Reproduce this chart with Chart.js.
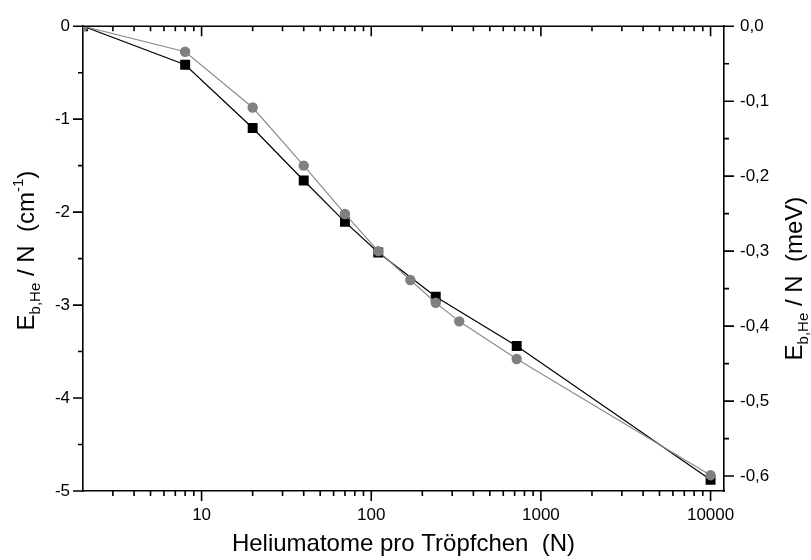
<!DOCTYPE html>
<html>
<head>
<meta charset="utf-8">
<script src="https://cdn.jsdelivr.net/npm/chart.js@4/dist/chart.umd.min.js"></script>
<style>
  html, body { margin: 0; padding: 0; background: #fff; }
  #wrap { width: 811px; height: 560px; position: relative; }
</style>
</head>
<body>
<div id="wrap"><canvas id="c" width="811" height="560"></canvas></div>
<script>
// ---- data ----
const nSquares = [2, 8, 20, 40, 70, 110, 240, 720, 10000];
const eSquares = [0, -0.415, -1.095, -1.66, -2.105, -2.435, -2.91, -3.44, -4.88];

const nCircles = [2, 8, 20, 40, 70, 110, 170, 240, 330, 720, 10000];
const eCircles = [0, -0.275, -0.875, -1.50, -2.02, -2.42, -2.73, -2.975, -3.175, -3.58, -4.83];

// ---- axes ----
const xMin = 2, xMax = 12000;
const xMajorTicks = [10, 100, 1000, 10000];
const yLeftMin = -5, yLeftMax = 0;
const yLeftMajor = [0, -1, -2, -3, -4, -5];
const yLeftMinor = [-0.5, -1.5, -2.5, -3.5, -4.5];
const cmToMeV = 0.123984;
const yRightMajor = [0, -0.1, -0.2, -0.3, -0.4, -0.5, -0.6];
const yRightMinor = [-0.05, -0.15, -0.25, -0.35, -0.45, -0.55];

const xTitle = 'Heliumatome pro Tröpfchen  (N)';
const FONT = '"Liberation Sans", Arial, sans-serif';

function xMinorTicks() {
  const out = [];
  for (let d = 1; d <= 10000; d *= 10) {
    for (let k = 2; k <= 9; k++) {
      const v = k * d;
      if (v > xMin && v < xMax && !xMajorTicks.includes(v)) out.push(v);
    }
  }
  return out;
}

const tickPlugin = {
  id: 'customTicks',
  afterDraw(chart) {
    const ctx = chart.ctx;
    const a = chart.chartArea;
    const x = chart.scales.x, y = chart.scales.y, y2 = chart.scales.y2;
    ctx.save();
    ctx.strokeStyle = '#000';
    ctx.lineWidth = 1.6;
    ctx.beginPath();
    ctx.moveTo(a.left, a.top); ctx.lineTo(a.right, a.top);
    ctx.stroke();
    const major = 10, minor = 5;
    ctx.beginPath();
    yLeftMajor.forEach(v => { const p = y.getPixelForValue(v); ctx.moveTo(a.left, p); ctx.lineTo(a.left - major, p); });
    yLeftMinor.forEach(v => { const p = y.getPixelForValue(v); ctx.moveTo(a.left, p); ctx.lineTo(a.left - minor, p); });
    yRightMajor.forEach(v => { const p = y2.getPixelForValue(v); ctx.moveTo(a.right, p); ctx.lineTo(a.right + major, p); });
    yRightMinor.forEach(v => { const p = y2.getPixelForValue(v); ctx.moveTo(a.right, p); ctx.lineTo(a.right + minor, p); });
    xMajorTicks.forEach(v => {
      const p = x.getPixelForValue(v);
      ctx.moveTo(p, a.bottom); ctx.lineTo(p, a.bottom + major);
      ctx.moveTo(p, a.top); ctx.lineTo(p, a.top + major);
    });
    xMinorTicks().forEach(v => {
      const p = x.getPixelForValue(v);
      ctx.moveTo(p, a.bottom); ctx.lineTo(p, a.bottom + minor);
      ctx.moveTo(p, a.top); ctx.lineTo(p, a.top + minor);
    });
    ctx.stroke();

    const mid = (a.top + a.bottom) / 2;
    drawRich(ctx, [
      { t: 'E', s: 24, dy: 0 },
      { t: 'b,He', s: 15, dy: 6 },
      { t: ' / N  (cm', s: 24, dy: 0 },
      { t: '-1', s: 15, dy: -11 },
      { t: ')', s: 24, dy: 0 }
    ], 25, mid - 8);
    drawRich(ctx, [
      { t: 'E', s: 24, dy: 0 },
      { t: 'b,He', s: 15, dy: 6 },
      { t: ' / N  (meV)', s: 24, dy: 0 }
    ], 793, mid + 20);
    ctx.restore();
  }
};

function drawRich(ctx, parts, cx, cy) {
  ctx.save();
  ctx.translate(cx, cy);
  ctx.rotate(-Math.PI / 2);
  ctx.fillStyle = '#000';
  ctx.textBaseline = 'alphabetic';
  ctx.textAlign = 'left';
  let total = 0;
  parts.forEach(p => { ctx.font = p.s + 'px ' + FONT; p.w = ctx.measureText(p.t).width; total += p.w; });
  let xx = -total / 2;
  parts.forEach(p => {
    ctx.font = p.s + 'px ' + FONT;
    ctx.fillText(p.t, xx, 9 + p.dy);
    xx += p.w;
  });
  ctx.restore();
}

const fmtComma = v => (Math.abs(v) < 1e-9 ? 0 : v).toFixed(1).replace('.', ',');

new Chart(document.getElementById('c'), {
  type: 'line',
  data: {
    datasets: [
      {
        label: 'squares',
        data: nSquares.map((n, i) => ({ x: n, y: eSquares[i] })),
        borderColor: '#000',
        backgroundColor: '#000',
        borderWidth: 1.2,
        pointStyle: 'rect',
        pointRadius: 7,
        pointBorderWidth: 0,
        pointHoverRadius: 7,
        order: 1,
        yAxisID: 'y'
      },
      {
        label: 'circles',
        data: nCircles.map((n, i) => ({ x: n, y: eCircles[i] })),
        borderColor: '#8c8c8c',
        backgroundColor: '#808080',
        borderWidth: 1.2,
        pointStyle: 'circle',
        pointRadius: 5.2,
        pointBorderWidth: 0,
        pointHoverRadius: 5.2,
        order: 0,
        yAxisID: 'y'
      }
    ]
  },
  options: {
    responsive: false,
    animation: false,
    events: [],
    layout: { padding: { top: 13, left: 0, right: 0, bottom: 0 } },
    plugins: { legend: { display: false }, tooltip: { enabled: false } },
    scales: {
      x: {
        type: 'logarithmic',
        min: xMin, max: xMax,
        position: 'bottom',
        grid: { display: false, drawTicks: false },
        border: { display: true, color: '#000', width: 1.6 },
        ticks: {
          color: '#000', font: { family: FONT, size: 17 }, padding: 14,
          autoSkip: false, maxRotation: 0,
          callback: v => String(v)
        },
        afterBuildTicks: s => { s.ticks = xMajorTicks.map(v => ({ value: v })); },
        title: { display: true, text: xTitle, color: '#000', font: { family: FONT, size: 24 }, padding: { top: 0, bottom: 1 } },
        afterFit: s => { s.height = 69; }
      },
      y: {
        type: 'linear', position: 'left',
        min: yLeftMin, max: yLeftMax,
        grid: { display: false, drawTicks: false },
        border: { display: true, color: '#000', width: 1.6 },
        ticks: { color: '#000', font: { family: FONT, size: 17 }, padding: 13, callback: v => String(v) },
        afterBuildTicks: s => { s.ticks = yLeftMajor.map(v => ({ value: v })); },
        afterFit: s => { s.width = 83; }
      },
      y2: {
        type: 'linear', position: 'right',
        min: yLeftMin * cmToMeV, max: yLeftMax * cmToMeV,
        grid: { display: false, drawTicks: false },
        border: { display: true, color: '#000', width: 1.6 },
        ticks: { color: '#000', font: { family: FONT, size: 17 }, padding: 16, callback: v => fmtComma(v) },
        afterBuildTicks: s => { s.ticks = yRightMajor.map(v => ({ value: v })); },
        afterFit: s => { s.width = 87; }
      }
    }
  },
  plugins: [tickPlugin]
});
</script>
</body>
</html>
